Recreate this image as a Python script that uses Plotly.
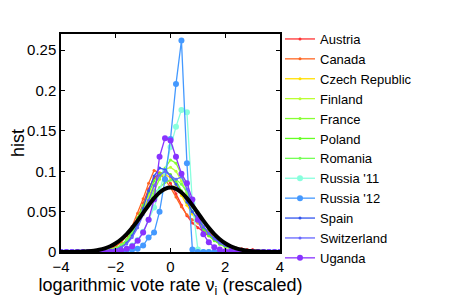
import plotly.graph_objects as go

x_vals = [-4.0, -3.8, -3.6, -3.4, -3.2, -3.0, -2.8, -2.6, -2.4, -2.2,
          -2.0, -1.8, -1.6, -1.4, -1.2, -1.0, -0.8, -0.6, -0.4, -0.2,
          0.0, 0.2, 0.4, 0.6, 0.8, 1.0, 1.2, 1.4, 1.6, 1.8,
          2.0, 2.2, 2.4, 2.6, 2.8, 3.0, 3.2, 3.4, 3.6, 3.8, 4.0]

austria = [0, 0, 0, 0, 0, 0, 0, 0, 0.001, 0.002,
           0.004, 0.008, 0.015, 0.026, 0.042, 0.060, 0.078, 0.092, 0.097, 0.093,
           0.085, 0.072, 0.058, 0.045, 0.036, 0.030, 0.025, 0.020, 0.016, 0.012,
           0.009, 0.007, 0.005, 0.004, 0.003, 0.003, 0.002, 0.001, 0.001, 0.0005, 0]
canada = [0, 0, 0, 0, 0, 0, 0, 0.001, 0.002, 0.004,
          0.007, 0.012, 0.020, 0.032, 0.048, 0.066, 0.085, 0.101, 0.098, 0.090,
          0.080, 0.068, 0.056, 0.046, 0.040, 0.036, 0.030, 0.024, 0.018, 0.013,
          0.009, 0.006, 0.004, 0.003, 0.002, 0.0015, 0.001, 0, 0, 0, 0]
czech = [0, 0, 0, 0, 0, 0, 0, 0, 0.001, 0.002,
         0.003, 0.006, 0.011, 0.020, 0.033, 0.050, 0.068, 0.083, 0.093, 0.096,
         0.092, 0.083, 0.070, 0.058, 0.047, 0.037, 0.028, 0.021, 0.015, 0.011,
         0.008, 0.005, 0.004, 0.003, 0.002, 0.001, 0.001, 0, 0, 0, 0]
finland = [0, 0, 0, 0, 0, 0, 0, 0, 0.001, 0.002,
           0.004, 0.007, 0.013, 0.022, 0.036, 0.052, 0.068, 0.082, 0.094, 0.102,
           0.105, 0.100, 0.088, 0.072, 0.056, 0.042, 0.030, 0.021, 0.015, 0.010,
           0.007, 0.005, 0.003, 0.002, 0.002, 0.001, 0.001, 0, 0, 0, 0]
france = [0, 0, 0, 0, 0, 0, 0, 0, 0.001, 0.002,
          0.004, 0.008, 0.014, 0.024, 0.038, 0.052, 0.064, 0.076, 0.090, 0.104,
          0.114, 0.110, 0.096, 0.078, 0.060, 0.045, 0.032, 0.022, 0.015, 0.010,
          0.006, 0.004, 0.003, 0.002, 0.001, 0.001, 0, 0, 0, 0, 0]
poland = [0, 0, 0, 0, 0, 0, 0, 0, 0.001, 0.002,
          0.004, 0.008, 0.015, 0.026, 0.042, 0.058, 0.074, 0.088, 0.097, 0.100,
          0.096, 0.088, 0.076, 0.062, 0.050, 0.038, 0.028, 0.020, 0.014, 0.010,
          0.007, 0.005, 0.003, 0.002, 0.001, 0.001, 0, 0, 0, 0, 0]
romania = [0, 0, 0, 0, 0, 0, 0, 0.001, 0.002, 0.003,
           0.005, 0.009, 0.015, 0.024, 0.036, 0.050, 0.062, 0.072, 0.080, 0.086,
           0.089, 0.090, 0.084, 0.074, 0.062, 0.050, 0.038, 0.028, 0.020, 0.014,
           0.010, 0.007, 0.005, 0.003, 0.002, 0.001, 0.001, 0, 0, 0, 0]
russia11 = [0, 0, 0, 0, 0, 0, 0, 0, 0, 0,
            0.001, 0.002, 0.004, 0.008, 0.015, 0.025, 0.040, 0.055, 0.075, 0.100,
            0.130, 0.155, 0.176, 0.173, 0.060, 0.003, 0, 0, 0, 0,
            0, 0, 0, 0, 0, 0, 0, 0, 0, 0, 0]
russia12 = [0, 0, 0, 0, 0, 0, 0, 0, 0, 0,
            0.0005, 0.001, 0.002, 0.003, 0.004, 0.008, 0.018, 0.024, 0.050, 0.090,
            0.140, 0.208, 0.262, 0.110, 0.003, 0, 0, 0, 0, 0,
            0, 0, 0, 0, 0, 0, 0, 0, 0, 0, 0]
spain = [0, 0, 0, 0, 0, 0, 0, 0, 0.001, 0.002,
         0.003, 0.006, 0.011, 0.020, 0.034, 0.054, 0.076, 0.094, 0.104, 0.102,
         0.094, 0.084, 0.074, 0.062, 0.050, 0.040, 0.031, 0.023, 0.017, 0.012,
         0.008, 0.006, 0.004, 0.003, 0.002, 0.001, 0.001, 0, 0, 0, 0]
switzerland = [0, 0, 0, 0, 0, 0, 0, 0, 0.001, 0.002,
               0.003, 0.006, 0.010, 0.018, 0.030, 0.046, 0.064, 0.082, 0.095, 0.100,
               0.094, 0.090, 0.093, 0.078, 0.060, 0.044, 0.032, 0.023, 0.016, 0.011,
               0.008, 0.005, 0.004, 0.003, 0.002, 0.001, 0.001, 0, 0, 0, 0]
uganda = [0, 0, 0, 0, 0, 0, 0, 0, 0, 0,
          0.001, 0.002, 0.004, 0.007, 0.014, 0.024, 0.040, 0.065, 0.118, 0.141,
          0.138, 0.118, 0.097, 0.085, 0.065, 0.040, 0.022, 0.012, 0.006, 0.003,
          0.001, 0.001, 0, 0, 0, 0, 0, 0, 0, 0, 0]
gauss_fit = [0.0000, 0.0001, 0.0001, 0.0002, 0.0005, 0.0009, 0.0016, 0.0027, 0.0045, 0.0071,
             0.0108, 0.0158, 0.0222, 0.0299, 0.0388, 0.0484, 0.0579, 0.0667, 0.0737, 0.0782,
             0.0798, 0.0782, 0.0737, 0.0667, 0.0579, 0.0484, 0.0388, 0.0299, 0.0222, 0.0158,
             0.0108, 0.0071, 0.0045, 0.0027, 0.0016, 0.0009, 0.0005, 0.0002, 0.0001, 0.0001, 0.0000]

series = [
    ("Austria", austria, "#ff3333", 3),
    ("Canada", canada, "#ff6622", 3),
    ("Czech Republic", czech, "#ffe000", 3),
    ("Finland", finland, "#bbff33", 3),
    ("France", france, "#88ff33", 3),
    ("Poland", poland, "#66ff22", 3),
    ("Romania", romania, "#77ff55", 3),
    ("Russia '11", russia11, "#88ffdd", 6),
    ("Russia '12", russia12, "#4499ff", 6),
    ("Spain", spain, "#3355ee", 3),
    ("Switzerland", switzerland, "#6666ff", 3),
    ("Uganda", uganda, "#8833ff", 6),
]

y_ticks = [0, 0.05, 0.1, 0.15, 0.2, 0.25]
y_tick_text = ["0", "0.05", "0.1", "0.15", "0.2", "0.25"]
x_ticks = [-4, -2, 0, 2, 4]
x_tick_text = ["\u22124", "\u22122", "0", "2", "4"]

fig = go.Figure()
for name, vals, color, msize in series:
    fig.add_trace(go.Scatter(
        x=x_vals, y=vals, name=name, mode="lines+markers",
        line=dict(color=color, width=1.3),
        marker=dict(color=color, size=msize),
    ))
fig.add_trace(go.Scatter(
    x=x_vals, y=gauss_fit, mode="lines", showlegend=False,
    line=dict(color="black", width=4, shape="spline"),
))

W, H = 466, 290
T, B = 16, 6
axis_top = 26      # figure px of top frame line
axis_bottom = 244  # figure px of x-axis line
plot_h = H - T - B
y_dom_low = (H - B - axis_bottom) / plot_h
y_dom_high = (H - B - axis_top) / plot_h

font = dict(family="Liberation Sans, Arial, sans-serif", size=15, color="black")
legend_font = dict(family="Liberation Sans, Arial, sans-serif", size=13, color="black")
fig.update_layout(
    width=W, height=H,
    margin=dict(l=53, r=194, t=T, b=B, autoexpand=False),
    paper_bgcolor="white", plot_bgcolor="white",
    font=font,
    showlegend=True,
    legend=dict(x=1.0, y=1.0, xanchor="left", yanchor="top",
                font=legend_font, bgcolor="rgba(0,0,0,0)", borderwidth=0,
                tracegroupgap=0, itemwidth=30),
    xaxis=dict(range=[-4, 4], tickvals=x_ticks, ticktext=x_tick_text,
               ticks="inside", ticklen=4, tickcolor="black", tickwidth=1,
               showline=True, linecolor="black", linewidth=1.5, mirror="ticks",
               showgrid=False, zeroline=False, automargin=False,
               title=dict(text="logarithmic vote rate \u03bd<sub>i</sub> (rescaled)", standoff=2)),
    yaxis=dict(range=[0, 0.27], tickvals=y_ticks, ticktext=y_tick_text,
               domain=[y_dom_low, y_dom_high],
               ticks="inside", ticklen=4, tickcolor="black", tickwidth=1,
               showline=True, linecolor="black", linewidth=1.5, mirror="ticks",
               showgrid=False, zeroline=False, automargin=False,
               title=dict(text="hist", standoff=0)),
)
fig.write_html("out.html")
